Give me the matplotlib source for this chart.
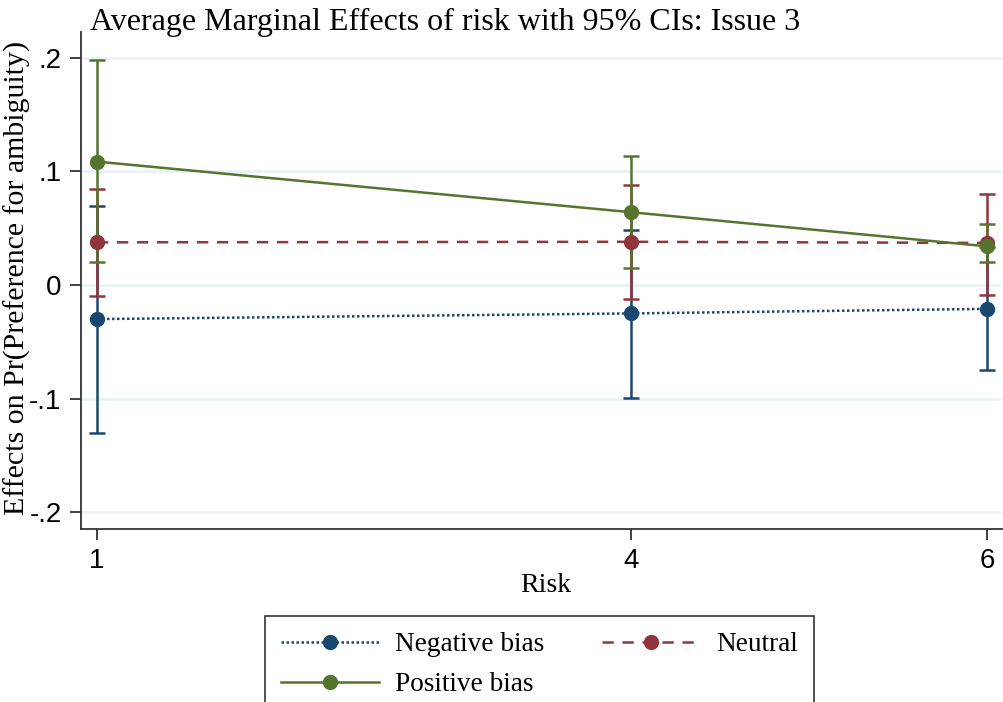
import numpy as np
import matplotlib
matplotlib.use("Agg")
import matplotlib.pyplot as plt

# average marginal effects of risk, by bias group
risk = [1, 4, 6]
groups = ["Negative bias", "Neutral", "Positive bias"]
effect = {
    "Negative bias": [-0.030, -0.025, -0.021],
    "Neutral": [0.0375, 0.038, 0.037],
    "Positive bias": [0.1085, 0.064, 0.034],
}
ci_low = {
    "Negative bias": [-0.130, -0.099, -0.075],
    "Neutral": [-0.0097, -0.0126, -0.0088],
    "Positive bias": [0.0206, 0.0147, 0.020],
}
ci_high = {
    "Negative bias": [0.0695, 0.048, 0.033],
    "Neutral": [0.0844, 0.088, 0.080],
    "Positive bias": [0.198, 0.1135, 0.0537],
}
yticks = [-0.2, -0.1, 0, 0.1, 0.2]
ytick_labels = ["-.2", "-.1", "0", ".1", ".2"]

colors = {"Negative bias": "#1a476f", "Neutral": "#90353b", "Positive bias": "#55752f"}
styles = {"Negative bias": (0, (1, 1)), "Neutral": (0, (4.5, 3.5)), "Positive bias": "-"}

serif = "Liberation Serif"
sans = "Liberation Sans"

fig = plt.figure(figsize=(10.04, 7.02), dpi=100)
W, H = 1004, 702
ax = fig.add_axes([81 / W, 1 - 529 / H, (1002 - 81) / W, (529 - 32) / H])

# CIs first, then the connected estimates on top
for g in groups:
    m = np.array(effect[g])
    lo = m - np.array(ci_low[g])
    hi = np.array(ci_high[g]) - m
    ax.errorbar(risk, m, yerr=[lo, hi], fmt="none", ecolor=colors[g],
                elinewidth=1.8, capsize=6, capthick=1.8, zorder=2)
handles = {}
for g in groups:
    h, = ax.plot(risk, effect[g], color=colors[g], linestyle=styles[g],
                 linewidth=1.8, marker="o", markersize=10, label=g, zorder=3)
    handles[g] = h

ax.set_xlim(0.91, 6.084)
ax.set_ylim(-0.2146, 0.2225)
ax.set_xticks(risk)
ax.set_xticklabels([str(r) for r in risk], fontfamily=sans, fontsize=20)
ax.set_yticks(yticks)
ax.set_yticklabels(ytick_labels, fontfamily=sans, fontsize=20)
ax.tick_params(axis="both", direction="out", length=8, width=1.3, color="#333333", pad=6)
ax.grid(axis="y", color="#eaf2f3", linewidth=2)
ax.set_axisbelow(True)
for s in ["top", "right"]:
    ax.spines[s].set_visible(False)
for s in ["left", "bottom"]:
    ax.spines[s].set_color("#333333")
    ax.spines[s].set_linewidth(1.3)

fig.text(546 / W, 1 - 585 / H, "Risk", fontfamily=serif, fontsize=20,
         ha="center", va="center")
fig.text(17 / W, 1 - 278 / H, "Effects on Pr(Preference for ambiguity)",
         fontfamily=serif, fontsize=21.5, rotation=90, ha="center", va="center")
fig.text(90 / W, 1 - 22 / H, "Average Marginal Effects of risk with 95% CIs: Issue 3",
         fontfamily=serif, fontsize=23, va="center", ha="left")

# two columns filled row by row; box runs past the bottom edge
order = ["Negative bias", "Positive bias", "Neutral"]
leg = fig.legend([handles[g] for g in order], order, loc="upper center",
                 bbox_to_anchor=(539.5 / W, 1 - 616 / H), ncol=2,
                 prop={"family": serif, "size": 19.6}, frameon=True, fancybox=False,
                 edgecolor="black", handlelength=3.6, handletextpad=0.6,
                 columnspacing=2.1, borderpad=0.6, labelspacing=0.55,
                 borderaxespad=0)
leg.get_frame().set_linewidth(1.2)

fig.savefig("out.png", dpi=100)
